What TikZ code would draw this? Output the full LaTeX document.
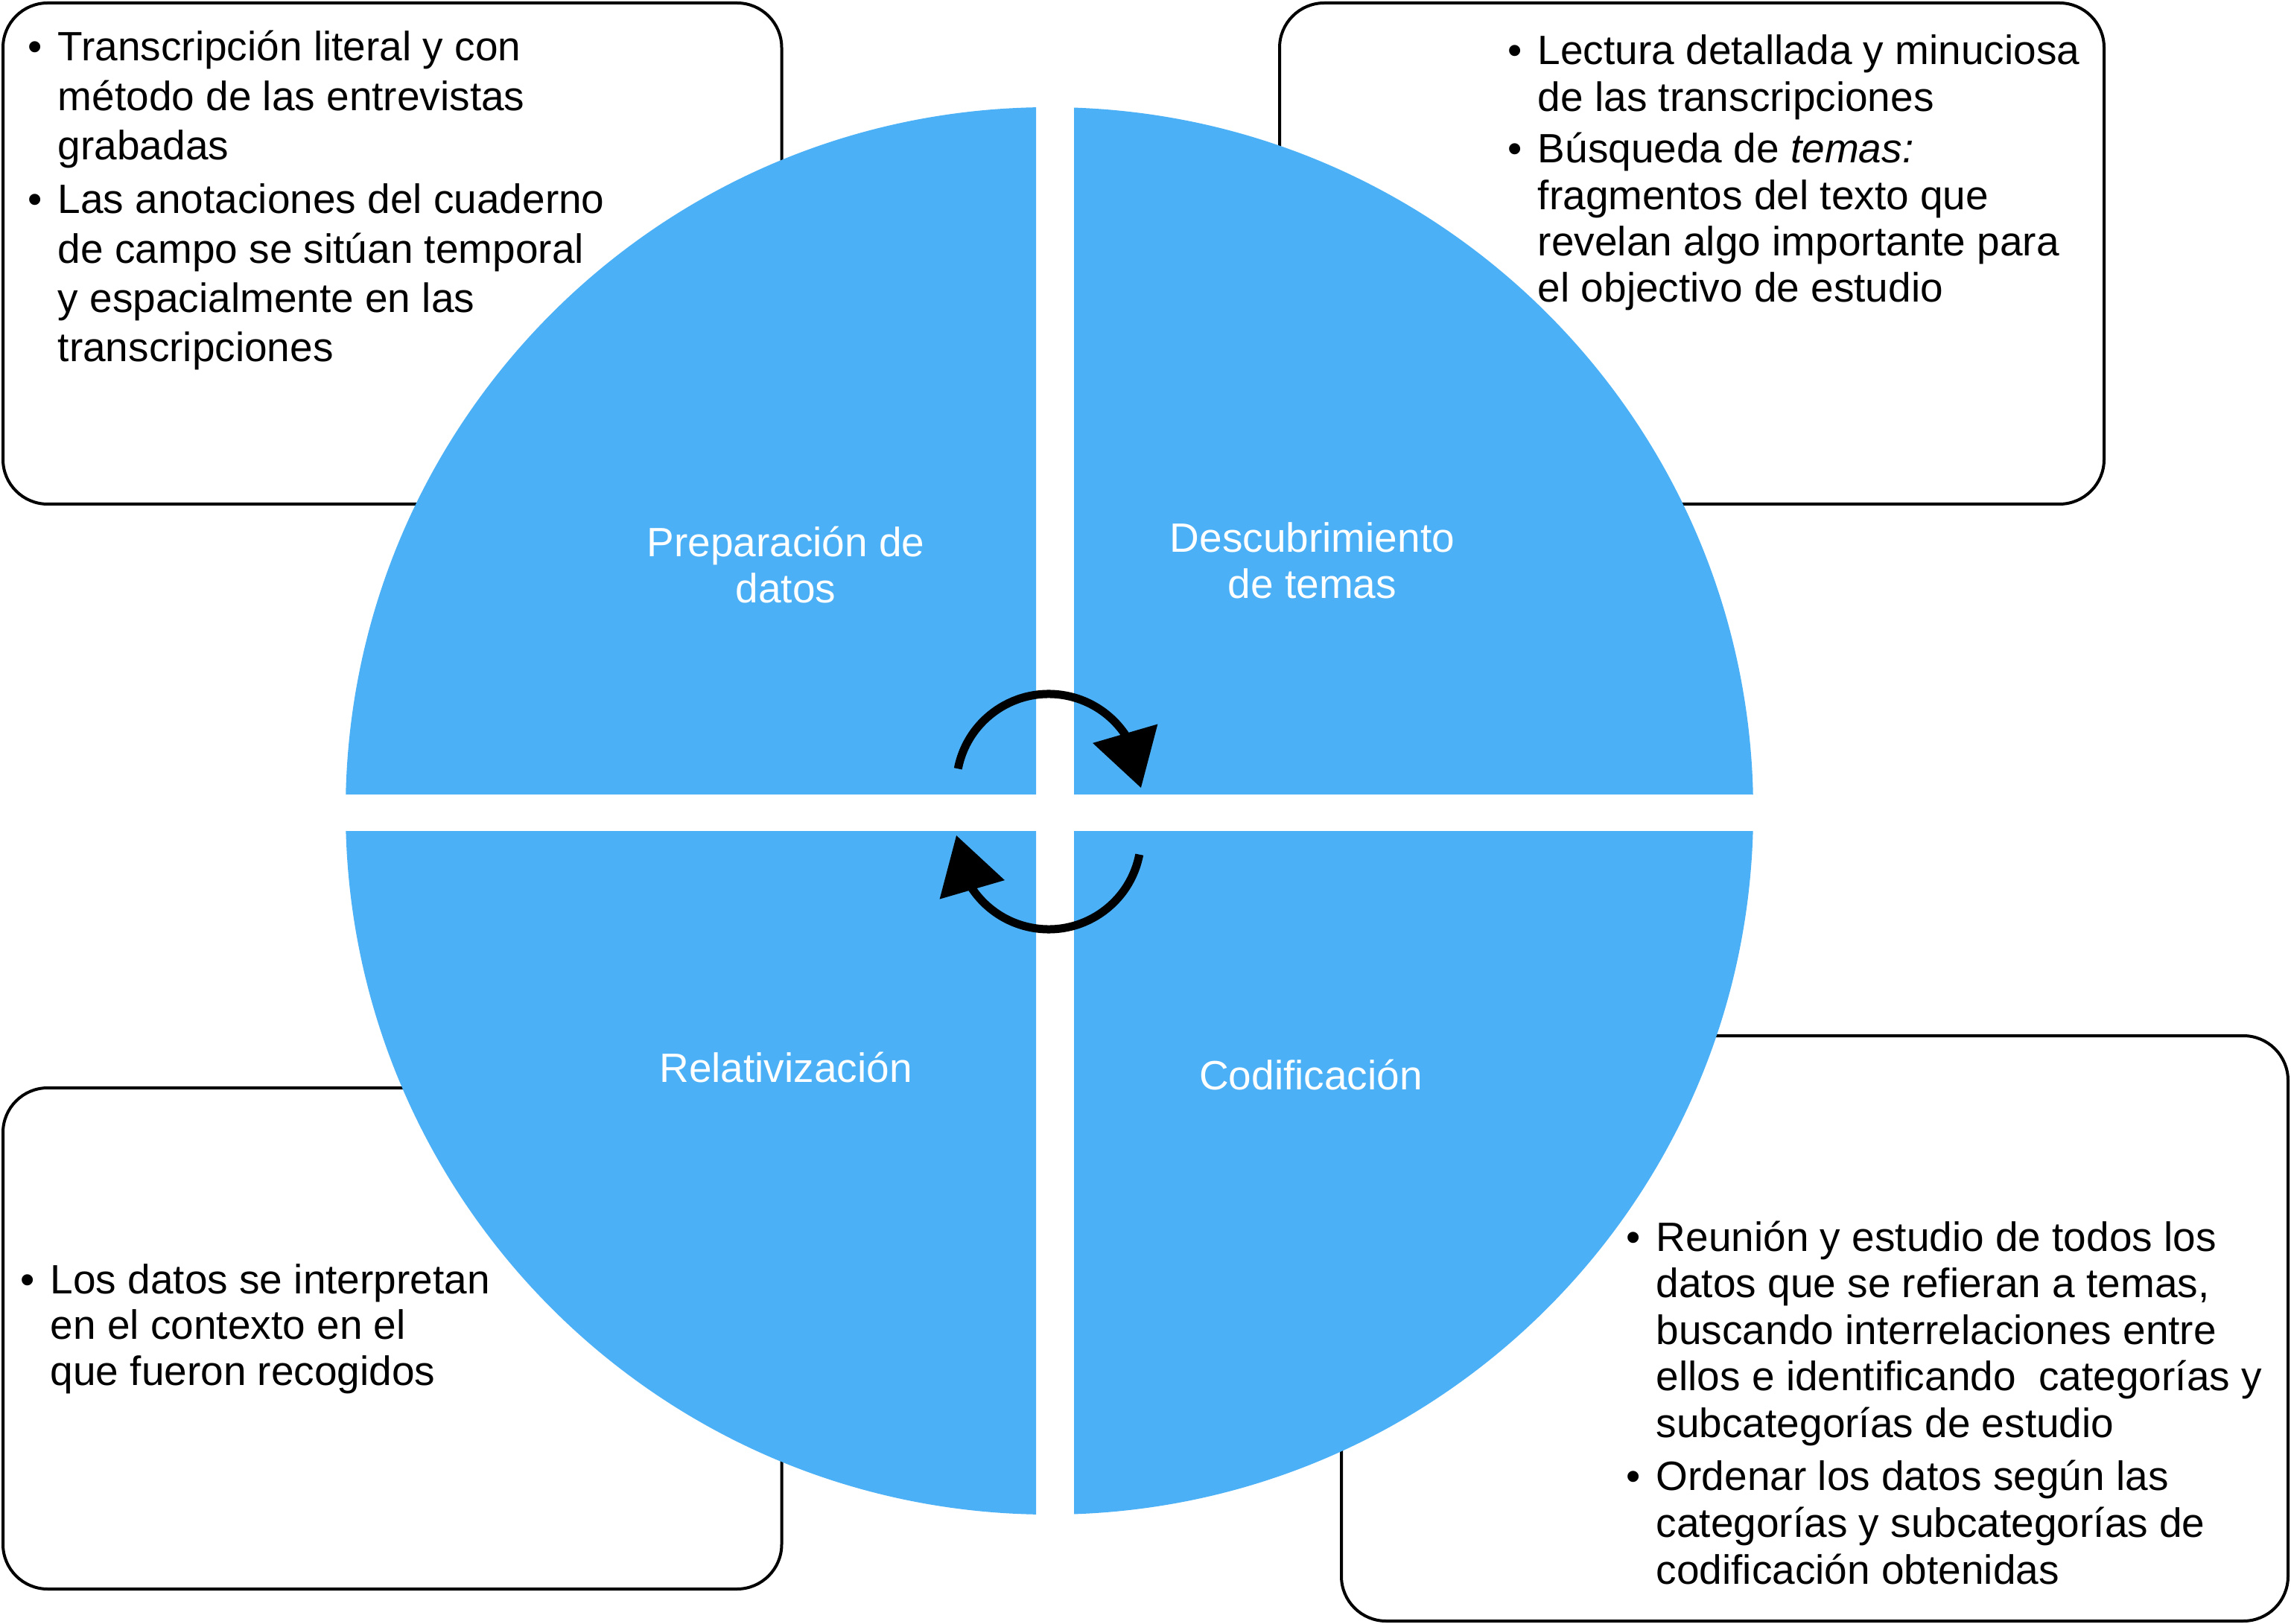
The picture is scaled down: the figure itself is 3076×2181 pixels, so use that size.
\documentclass[tikz,border=0pt]{standalone}
\usepackage{fontspec}
\setmainfont{Liberation Sans}
\usetikzlibrary{arrows.meta,bending}
\definecolor{pieblue}{RGB}{75,176,245}
\newcommand{\bul}{\makebox[10pt][l]{\textbullet}}
\tikzset{
  infobox/.style={draw=black, line width=1pt, rounded corners=15pt, fill=white},
  itemtext/.style={anchor=base west, inner sep=0pt, font=\fontsize{13.75pt}{#1}\selectfont},
  quadlabel/.style={anchor=base, inner sep=0pt, text=white, font=\fontsize{13.75pt}{15.5pt}\selectfont},
  cyclearrow/.style={line width=2.75pt, -{Triangle[length=19pt,width=22pt,flex]}},
}
\begin{document}
\begin{tikzpicture}[x=0.25pt,y=-0.25pt]
\useasboundingbox (0,0) rectangle (3076,2181);
% boxes
\draw[infobox] (4,4) rectangle (1049.5,677);
\draw[infobox] (1718,4) rectangle (2825,677);
\draw[infobox] (4,1461) rectangle (1049.5,2134);
\draw[infobox] (1801,1391) rectangle (3072,2177);
% circle quadrants
\coordinate (O) at (1409,1089);
\begin{scope}\clip (0,0) rectangle (1391,1067); \fill[pieblue] (O) circle[radius=945]; \end{scope}
\begin{scope}\clip (1442,0) rectangle (3076,1067); \fill[pieblue] (O) circle[radius=945]; \end{scope}
\begin{scope}\clip (0,1117) rectangle (1391,2181); \fill[pieblue] (O) circle[radius=945]; \end{scope}
\begin{scope}\clip (1442,1117) rectangle (3076,2181); \fill[pieblue] (O) circle[radius=945]; \end{scope}
% cycle arrows
\coordinate (ctop) at (1408,1056);
\coordinate (cbot) at (1408,1124);
\draw[cyclearrow] ([shift={(-169:124)}]ctop) arc[start angle=-169, end angle=1, radius=124];
\draw[cyclearrow] ([shift={(11:124)}]cbot) arc[start angle=11, end angle=181, radius=124];
% quadrant labels
\node[quadlabel] (prep) at (1055,748) {\begin{tabular}[t]{@{}c@{}}Preparación de\\datos\end{tabular}};
\node[quadlabel] (desc) at (1762,742) {\begin{tabular}[t]{@{}c@{}}Descubrimiento\\de temas\end{tabular}};
\node[quadlabel] (rel) at (1055,1453) {Relativización};
\node[quadlabel] (cod) at (1760,1463) {Codificación};
% box texts
\node[itemtext=16.6pt] (tltext) at (37,82) {\begin{tabular}[t]{@{}l@{}l@{}}
\bul & Transcripción literal y con\\
 & método de las entrevistas\\
 & grabadas\\[1.4pt]
\bul & Las anotaciones del cuaderno\\
 & de campo se sitúan temporal\\
 & y espacialmente en las\\
 & transcripciones
\end{tabular}};
\node[itemtext=15.6pt] (trtext) at (2024,87) {\begin{tabular}[t]{@{}l@{}l@{}}
\bul & Lectura detallada y minuciosa\\
 & de las transcripciones\\[1.75pt]
\bul & Búsqueda de \textit{temas:}\\
 & fragmentos del texto que\\
 & revelan algo importante para\\
 & el objectivo de estudio
\end{tabular}};
\node[itemtext=15.4pt] (bltext) at (27,1737) {\begin{tabular}[t]{@{}l@{}l@{}}
\bul & Los datos se interpretan\\
 & en el contexto en el\\
 & que fueron recogidos
\end{tabular}};
\node[itemtext=15.65pt] (brtext) at (2183,1680) {\begin{tabular}[t]{@{}l@{}l@{}}
\bul & Reunión y estudio de todos los\\
 & datos que se refieran a temas,\\
 & buscando interrelaciones entre\\
 & ellos e identificando\ \ categorías y\\
 & subcategorías de estudio\\[2.25pt]
\bul & Ordenar los datos según las\\
 & categorías y subcategorías de\\
 & codificación obtenidas
\end{tabular}};
\end{tikzpicture}
\end{document}
